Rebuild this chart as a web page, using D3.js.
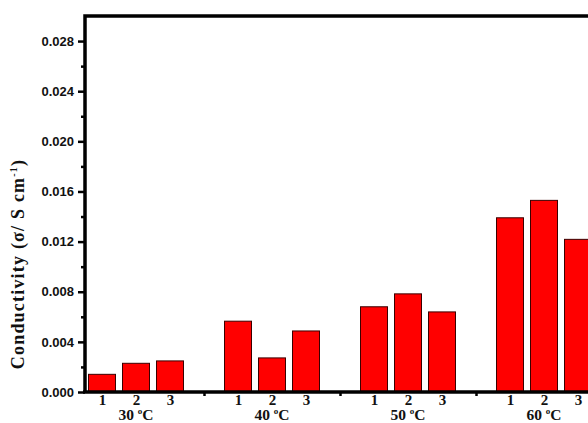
<!DOCTYPE html>
<html><head><meta charset="utf-8">
<script src="https://cdn.jsdelivr.net/npm/d3@7"></script>
<style>html,body{margin:0;padding:0;background:#fff;overflow:hidden}svg{display:block}</style>
</head><body>
<script>
const groups = ["30", "40", "50", "60"];
const samples = ["1", "2", "3"];
const values30 = [0.00141, 0.00229, 0.00248];
const values40 = [0.00565, 0.00272, 0.00487];
const values50 = [0.00680, 0.00783, 0.00639];
const values60 = [0.01390, 0.01529, 0.01218];
const yTicks = [0, 0.004, 0.008, 0.012, 0.016, 0.020, 0.024, 0.028];
const series = [values30, values40, values50, values60];

const W = 588, H = 423;
const svg = d3.select("body").append("svg").attr("width", W).attr("height", H);
const mLeft = 85, mTop = 16, mBottom = 392, mRight = 629;
const x = d3.scaleLinear().domain([0.5, 16.5]).range([mLeft, mRight]);
const y = d3.scaleLinear().domain([0, 0.030]).range([mBottom, mTop]);
const barW = 27;

// bars
const data = [];
series.forEach((vals, gi) => vals.forEach((v, si) => data.push({g: gi, s: si, v, pos: gi * 4 + si + 1})));
svg.append("g").selectAll("rect").data(data).enter().append("rect")
  .attr("x", d => x(d.pos) - barW / 2)
  .attr("width", barW)
  .attr("y", d => y(d.v))
  .attr("height", d => y(0) - y(d.v))
  .attr("fill", "#ff0000").attr("stroke", "#3a0000").attr("stroke-width", 1);

// y axis
const minorY = d3.range(0.002, 0.030, 0.004);
const yAxis = d3.axisLeft(y).tickValues(yTicks).tickFormat(d3.format(".3f")).tickSize(7).tickPadding(4);
const gy = svg.append("g").attr("transform", `translate(${mLeft},0)`).call(yAxis);
gy.select(".domain").remove();
gy.selectAll(".tick line").attr("stroke", "#000").attr("stroke-width", 2.5);
gy.selectAll(".tick text").attr("font-family", "Liberation Sans, Arial, sans-serif")
  .attr("font-weight", "bold").attr("font-size", 13).attr("fill", "#111");
const gyMinor = d3.axisLeft(y).tickValues(minorY).tickSize(4).tickFormat("");
const gym = svg.append("g").attr("transform", `translate(${mLeft},0)`).call(gyMinor);
gym.select(".domain").remove();
gym.selectAll(".tick line").attr("stroke", "#000").attr("stroke-width", 2.5);

// x axis: sample labels
const xPos = data.map(d => d.pos);
const xAxis = d3.axisBottom(x).tickValues(xPos).tickSize(0).tickPadding(2)
  .tickFormat((d) => samples[(d - 1) % 4]);
const gx = svg.append("g").attr("transform", `translate(0,${mBottom})`).call(xAxis);
gx.select(".domain").remove();
gx.selectAll(".tick text").attr("font-family", "Liberation Serif, Times New Roman, serif")
  .attr("font-weight", "bold").attr("font-size", 15).attr("fill", "#111");
// minor ticks at gaps
const gapPos = [4, 8, 12, 16];
const gxm = svg.append("g").attr("transform", `translate(0,${mBottom})`)
  .call(d3.axisBottom(x).tickValues(gapPos).tickSize(4).tickFormat(""));
gxm.select(".domain").remove();
gxm.selectAll(".tick line").attr("stroke", "#000").attr("stroke-width", 2.5);

// group labels
const gl = svg.append("g").selectAll("text").data(groups).enter().append("text")
  .attr("x", (d, i) => x(i * 4 + 2)).attr("y", 420)
  .attr("text-anchor", "middle")
  .attr("font-family", "Liberation Serif, Times New Roman, serif")
  .attr("font-weight", "bold").attr("font-size", 15.5).attr("fill", "#111");
gl.append("tspan").text(d => d + " ");
gl.append("tspan").text("o").attr("font-size", 9).attr("dy", -6);
gl.append("tspan").text("C").attr("dy", 6);

// frame
svg.append("path").attr("d", `M${mLeft},${mBottom}V${mTop}H${mRight}`).attr("fill", "none")
  .attr("stroke", "#000").attr("stroke-width", 3.5);
svg.append("line").attr("x1", mLeft - 2).attr("x2", mRight).attr("y1", mBottom).attr("y2", mBottom)
  .attr("stroke", "#000").attr("stroke-width", 3.5);

// y title
const yt = svg.append("text").attr("transform", "translate(24,264) rotate(-90)")
  .attr("text-anchor", "middle")
  .attr("font-family", "Liberation Serif, Times New Roman, serif")
  .attr("font-weight", "bold").attr("font-size", 18).attr("letter-spacing", 1.2).attr("fill", "#111");
yt.append("tspan").text("Conductivity (σ/ S cm");
yt.append("tspan").text("-1").attr("font-size", 10).attr("dy", -7);
yt.append("tspan").text(")").attr("dy", 7);
</script>
</body></html>
